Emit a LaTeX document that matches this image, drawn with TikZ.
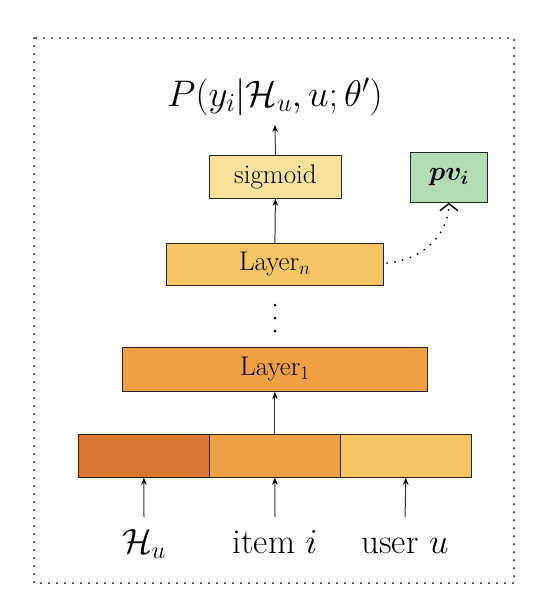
\RequirePackage{fix-cm}
\documentclass[tikz,border=0pt]{standalone}
\usepackage{amsmath,bm}
\usetikzlibrary{arrows.meta,bending}
\definecolor{cA}{HTML}{DB7734}
\definecolor{cB}{HTML}{EFA045}
\definecolor{cC}{HTML}{F5C665}
\definecolor{cD}{HTML}{FAE29C}
\definecolor{cG}{HTML}{B3DDB7}
\begin{document}
\begin{tikzpicture}[x=1pt,y=-1pt,
  box/.style={draw=black!85,line width=0.8pt,inner sep=0pt,anchor=north west},
  arr/.style={draw=black!80,line width=1pt,-{Stealth[length=7pt,width=5.5pt,black]}},
  boxfont/.style={font=\fontsize{27}{31}\selectfont},
  labfont/.style={font=\fontsize{35}{40}\selectfont},
  titfont/.style={font=\fontsize{37}{42}\selectfont},
  dotline/.style={line width=2pt,dash pattern=on 0pt off 8pt,line cap=round}]
\useasboundingbox (0,0) rectangle (538,608);
\draw[dotline] (34,38) rectangle (514,583);
% boxes
\node[box,fill=cA,minimum width=131pt,minimum height=43pt] (h) at (78,434) {};
\node[box,fill=cB,minimum width=131pt,minimum height=43pt] (it) at (209,434) {};
\node[box,fill=cC,minimum width=131pt,minimum height=43pt] (us) at (340,434) {};
\node[box,fill=cB,minimum width=305pt,minimum height=44pt] (l1) at (122,347) {};
\node[boxfont] at (l1.center) {Layer$_1$};
\node[box,fill=cC,minimum width=217pt,minimum height=42pt] (ln) at (166,243) {};
\node[boxfont] at (ln.center) {Layer$_n$};
\node[box,fill=cD,minimum width=132pt,minimum height=43pt] (sg) at (209,155) {};
\node[boxfont] at (sg.center) {sigmoid};
\node[box,fill=cG,minimum width=77pt,minimum height=50pt] (pv) at (410,152) {};
\node[boxfont] at (pv.center) {$\bm{pv_i}$};
% title
\node[titfont,anchor=base] (t) at (275,106) {$P(y_i|\mathcal{H}_u,u;\theta')$};
% bottom labels
\node[labfont,anchor=base] (lh) at (144,553) {$\mathcal{H}_u$};
\node[labfont,anchor=base] (li) at (275,553) {item $i$};
\node[labfont,anchor=base] (lu) at (405,553) {user $u$};
\coordinate (sh) at (144,517);
\coordinate (si) at (275,517);
\coordinate (su) at (405,517);
\draw[arr] (sh) -- (h.south);
\draw[arr] (si) -- (it.south);
\draw[arr] (su) -- (us.south);
\draw[arr] (it.north) -- (l1.south);
\draw[arr] (ln.north) -- (sg.south);
\coordinate (tb) at (275,125);
\draw[arr] (sg.north) -- (tb);
% vertical dots
\foreach \yy in {305,318,331} \fill (275,\yy) circle (1.5pt);
% dotted curve
\coordinate (cs) at (387,263);
\draw[dotline,
  -{Straight Barb[length=7pt,width=18pt,line width=1.4pt]}]
  (cs) to[out=5,in=-90] (pv.south);
\end{tikzpicture}
\end{document}
